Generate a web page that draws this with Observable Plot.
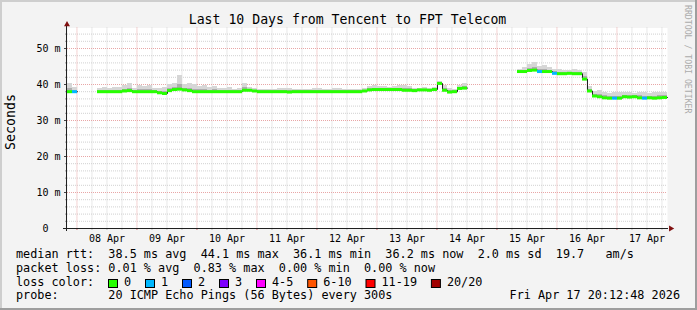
<!DOCTYPE html>
<html><head><meta charset="utf-8">
<script src="https://cdn.jsdelivr.net/npm/d3@7"></script>
<script src="https://cdn.jsdelivr.net/npm/@observablehq/plot@0.6"></script>
<style>
html,body{margin:0;padding:0;background:#f3f3f3;}
#wrap{position:relative;width:697px;height:310px;background:#f3f3f3;overflow:hidden;}
#wrap svg{position:absolute;left:0;top:0;}
</style></head><body><div id="wrap"></div>
<script>
// ---- data (2-hour bins from Apr 07 20:12:48 to Apr 17 20:12:48), values in ms ----
const median = [
  38.0, 38.0, null, null, null, null, 38.0, 38.0, 38.0, 38.0,
  38.0, 38.2, 38.3, 38.0, 38.0, 38.0, 38.0, 38.0, 37.7, 37.5,
  38.3, 38.6, 38.7, 38.5, 38.3, 38.0, 38.0, 38.0, 38.0, 38.0,
  38.0, 38.0, 38.0, 38.0, 38.0, 38.4, 38.4, 38.2, 38.0, 38.0,
  38.0, 38.0, 38.0, 38.0, 37.9, 38.0, 38.0, 38.0, 38.0, 38.0,
  38.0, 38.0, 38.0, 38.0, 38.0, 38.0, 38.0, 38.0, 38.0, 38.2,
  38.5, 38.6, 38.6, 38.6, 38.6, 38.6, 38.6, 38.4, 38.4, 38.3,
  38.5, 38.5, 38.4, 38.6, 40.3, 38.4, 37.9, 38.0, 38.9, 39.0,
  null, null, null, null, null, null, null, null, null, null,
  43.6, 43.6, 43.9, 44.0, 43.6, 43.6, 43.6, 43.1, 43.0, 43.0,
  43.1, 43.0, 43.0, 41.5, 38.2, 36.8, 36.6, 36.3, 36.2, 36.2,
  36.2, 36.6, 36.5, 36.6, 36.3, 36.2, 36.3, 36.2, 36.3, 36.4
];
const smokeHi = [
  40.2, 39.3, null, null, null, null, 38.8, 39.2, 39.0, 39.3,
  39.3, 39.6, 40.2, 39.0, 39.8, 39.5, 39.6, 39.0, 38.8, 39.2,
  40.0, 40.2, 42.5, 40.0, 40.3, 40.0, 39.5, 39.6, 39.3, 39.5,
  39.0, 38.9, 39.1, 38.6, 38.8, 40.2, 39.3, 38.8, 38.6, 38.6,
  38.7, 38.6, 38.9, 39.0, 38.9, 38.6, 38.6, 38.7, 38.6, 38.9,
  38.9, 38.6, 38.6, 39.0, 39.0, 38.6, 38.6, 38.6, 38.7, 38.9,
  39.4, 39.7, 39.5, 39.4, 39.3, 39.4, 39.6, 39.8, 39.5, 39.0,
  39.0, 39.1, 39.0, 39.2, 40.8, 39.6, 38.8, 38.6, 39.6, 40.2,
  null, null, null, null, null, null, null, null, null, null,
  44.3, 44.8, 45.5, 46.0, 45.0, 45.2, 44.6, 44.3, 44.2, 44.0,
  43.9, 44.3, 44.0, 43.2, 39.5, 38.0, 38.2, 37.8, 37.6, 37.7,
  37.9, 37.7, 37.8, 37.6, 37.9, 37.8, 37.6, 37.9, 37.8, 37.8
];
const loss = [
  0, 1, null, null, null, null, 0, 0, 0, 0,
  0, 0, 0, 0, 0, 0, 0, 0, 0, 0,
  0, 0, 0, 0, 0, 0, 0, 0, 0, 0,
  0, 0, 0, 0, 0, 0, 0, 0, 0, 0,
  0, 0, 0, 0, 0, 0, 0, 0, 0, 0,
  0, 0, 0, 0, 0, 0, 0, 0, 0, 0,
  0, 0, 0, 0, 0, 0, 0, 0, 0, 0,
  0, 0, 0, 0, 0, 0, 0, 0, 0, 0,
  null, null, null, null, null, null, null, null, null, null,
  0, 0, 0, 0, 1, 0, 0, 1, 0, 0,
  0, 0, 0, 0, 0, 0, 0, 0, 0, 1,
  0, 0, 0, 0, 0, 1, 0, 0, 0, 0
];
const lossLabels = ["0", "1", "2", "3", "4-5", "6-10", "11-19", "20/20"];
const lossColors = ["#26ff00", "#00b8ff", "#0059ff", "#7e00ff", "#ff00ff", "#ff5500", "#ff0000", "#a00000"];
const yMajor = [10, 20, 30, 40, 50];
const titleText = "Last 10 Days from Tencent to FPT Telecom";
const legendLines = [
  "median rtt:  38.5 ms avg  44.1 ms max  36.1 ms min  36.2 ms now  2.0 ms sd  19.7   am/s",
  "packet loss: 0.01 % avg  0.83 % max  0.00 % min  0.00 % now",
  "loss color:",
  "probe:       20 ICMP Echo Pings (56 Bytes) every 300s"
];
const dateText = "Fri Apr 17 20:12:48 2026";

// ---- build ----
const H = 3600e3;
const start = new Date(Date.UTC(2026, 3, 7, 20, 12, 48));
const end = new Date(Date.UTC(2026, 3, 17, 20, 12, 48));
const rows = median.map((m, i) => ({t1: new Date(+start + i * 2 * H), t2: new Date(+start + (i + 1) * 2 * H), m, hi: smokeHi[i], loss: loss[i]}));
const valid = rows.filter(d => d.m != null);
const linePts = rows.flatMap(d => d.m == null ? [{t: d.t1, y: NaN}] : [{t: d.t1, y: d.m}, {t: d.t2, y: d.m}]);
const midnights = d3.utcDay.range(start, end);
const sixH = d3.utcHour.every(6).range(start, end).filter(d => d.getUTCHours() !== 0);
const noons = midnights.map(d => new Date(+d + 12 * H));
const yMinor = d3.range(2, 55.7, 2).filter(v => v % 10 !== 0);
function lossColor(n) {
  if (n === 0) return lossColors[0];
  if (n === 1) return lossColors[1];
  if (n === 2) return lossColors[2];
  if (n === 3) return lossColors[3];
  if (n <= 5) return lossColors[4];
  if (n <= 10) return lossColors[5];
  if (n <= 19) return lossColors[6];
  return lossColors[7];
}

const chart = Plot.plot({
  width: 697, height: 310,
  marginLeft: 67, marginRight: 30, marginTop: 27.48, marginBottom: 82,
  style: {background: "transparent", fontFamily: "DejaVu Sans Mono", fontSize: "10px", color: "#000"},
  x: {type: "utc", domain: [start, end], label: null},
  y: {domain: [0, 55.7], label: null},
  color: {type: "identity"},
  marks: [
    Plot.frame({fill: "white", stroke: null}),
    Plot.ruleY(yMinor, {stroke: "#d1d1d1", strokeDasharray: "1,1"}),
    Plot.ruleX(sixH, {stroke: "#d1d1d1", strokeDasharray: "1,1"}),
    Plot.ruleY(yMajor, {stroke: "#e8a6a6", strokeDasharray: "1,1"}),
    Plot.ruleX(midnights, {stroke: "#e8a6a6", strokeDasharray: "1,1"}),
    Plot.rect(valid, {x1: "t1", x2: "t2", y1: "m", y2: "hi", fill: "#d6d6d6", shapeRendering: "crispEdges"}),
    Plot.rect(valid, {x1: "t1", x2: "t2", y1: "m", y2: d => d.m + (d.hi - d.m) * 0.35, fill: "#adadad", shapeRendering: "crispEdges"}),
    Plot.line(linePts, {x: "t", y: "y", stroke: "#202020", strokeWidth: 1}),
    Plot.ruleY(valid, {x1: "t1", x2: "t2", y: "m", stroke: d => lossColor(d.loss), strokeWidth: 3}),
    Plot.axisY({ticks: yMinor, tickSize: 2, tickFormat: () => "", stroke: "#9a9a9a", label: null}),
    Plot.axisY({ticks: [0, ...yMajor], tickSize: 3, tickPadding: 4, tickFormat: d => d === 0 ? "0\u00a0\u00a0" : d + " m", stroke: "#444", fill: "#000", fontSize: 10, label: null}),
    Plot.axisX({ticks: sixH, tickSize: 2, tickFormat: () => "", stroke: "#bbbbbb", label: null}),
    Plot.axisX({ticks: midnights, tickSize: 2, tickFormat: () => "", stroke: "#d07070", label: null}),
    Plot.axisX({ticks: noons, tickSize: 0, tickPadding: 6, tickFormat: d3.utcFormat("%d %b"), fill: "#000", fontSize: 10, label: null}),
    Plot.ruleX([start], {stroke: "#202020", insetTop: -2, insetBottom: -3, dx: -1}),
    Plot.ruleY([0], {stroke: "#202020", insetLeft: -4, insetRight: -1}),
    Plot.dot([end], {x: d => d, y: () => 0, symbol: "triangle", rotate: 90, r: 2.2, fill: "#801010", stroke: "none", dx: 3.3}),
    Plot.dot([start], {x: d => d, y: () => 55.7, symbol: "triangle", r: 2.2, fill: "#801010", stroke: "none", dy: -3.5, dx: -0.5})
  ]
});
document.getElementById("wrap").appendChild(chart);

// ---- text overlay ----
const nb = s => s.replace(/ /g, "\u00a0");
const svg = d3.select("#wrap").append("svg").attr("width", 697).attr("height", 310)
  .style("font-family", "DejaVu Sans Mono").style("pointer-events", "none");
svg.append("rect").attr("x", 0).attr("y", 0).attr("width", 697).attr("height", 2).attr("fill", "#cecece");
svg.append("rect").attr("x", 0).attr("y", 0).attr("width", 2).attr("height", 310).attr("fill", "#cecece");
svg.append("rect").attr("x", 0).attr("y", 308).attr("width", 697).attr("height", 2).attr("fill", "#9e9e9e");
svg.append("rect").attr("x", 695).attr("y", 0).attr("width", 2).attr("height", 310).attr("fill", "#9e9e9e");

svg.append("text").attr("x", 347.5).attr("y", 23.5).attr("text-anchor", "middle")
  .attr("font-size", 13.2).attr("fill", "#000").text(titleText);
svg.append("text").attr("transform", "translate(15,122) rotate(-90)").attr("text-anchor", "middle")
  .attr("font-size", 13.3).attr("fill", "#000").text("Seconds");
svg.append("text").attr("transform", "translate(685,5) rotate(90)").attr("text-anchor", "start")
  .attr("font-size", 8.2).attr("fill", "#ababab").text(nb("RRDTOOL / TOBI OETIKER"));

const baselines = [258.3, 272, 285.7, 299.3];
legendLines.forEach((s, i) => {
  svg.append("text").attr("x", 16).attr("y", baselines[i]).attr("font-size", 11.8).attr("fill", "#000").text(nb(s));
});
svg.append("text").attr("x", 680).attr("y", baselines[3]).attr("text-anchor", "end")
  .attr("font-size", 11.8).attr("fill", "#000").text(nb(dateText));

let bx = 108;
lossLabels.forEach((lab, i) => {
  svg.append("rect").attr("x", bx + 0.5).attr("y", 279.5).attr("width", 9).attr("height", 8)
    .attr("fill", lossColors[i]).attr("stroke", "#000").attr("stroke-width", 1);
  svg.append("text").attr("x", bx + 16).attr("y", baselines[2]).attr("font-size", 11.8).attr("fill", "#000").text(lab);
  bx += 37 + (lab.length - 1) * 7.1;
});
</script></body></html>
